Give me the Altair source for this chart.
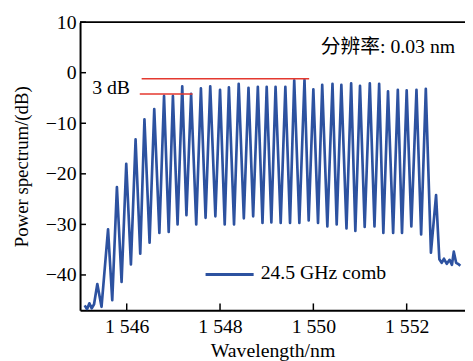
import altair as alt
import pandas as pd

# ---- data ----
peak_wl = [1545.37, 1545.60, 1545.79, 1545.99, 1546.19, 1546.38, 1546.59, 1546.80, 1546.99,
           1547.19, 1547.38, 1547.59, 1547.79, 1548.00, 1548.19, 1548.40, 1548.61, 1548.81,
           1549.00, 1549.19, 1549.40, 1549.59, 1549.81, 1550.00, 1550.19, 1550.41, 1550.60,
           1550.81, 1551.00, 1551.21, 1551.41, 1551.60, 1551.81, 1552.00, 1552.21, 1552.41,
           1552.63]
peak_db = [-41.8, -31.0, -22.6, -18.0, -13.2, -9.2, -7.2, -4.6, -4.6,
           -2.7, -4.2, -3.1, -2.7, -3.4, -2.9, -2.2, -3.0, -2.8,
           -2.8, -2.8, -2.8, -1.5, -1.4, -3.3, -2.4, -2.2, -2.4,
           -2.1, -2.6, -2.1, -2.2, -3.7, -3.4, -3.5, -3.4, -3.2,
           -24.2]
valley_wl = [1545.46, 1545.69, 1545.89, 1546.09, 1546.29, 1546.49, 1546.70, 1546.90, 1547.09,
             1547.28, 1547.49, 1547.69, 1547.90, 1548.10, 1548.30, 1548.51, 1548.71, 1548.91,
             1549.10, 1549.30, 1549.50, 1549.70, 1549.90, 1550.10, 1550.30, 1550.50, 1550.71,
             1550.90, 1551.10, 1551.31, 1551.50, 1551.71, 1551.90, 1552.10, 1552.31, 1552.52,
             1552.70]
valley_db = [-46.3, -45.0, -41.4, -37.9, -35.8, -33.6, -31.7, -31.5, -30.0,
             -28.2, -30.0, -28.7, -28.4, -30.0, -30.0, -28.8, -28.4, -29.7,
             -29.6, -29.7, -29.7, -29.7, -29.2, -29.7, -30.4, -30.0, -30.8,
             -31.3, -30.5, -30.4, -31.7, -31.7, -31.7, -30.4, -32.0, -35.6,
             -36.9]
left_wl = [1545.10, 1545.15, 1545.20, 1545.25, 1545.30]
left_db = [-46.0, -46.8, -45.6, -46.6, -45.8]
right_wl = [1552.75, 1552.80, 1552.86, 1552.92, 1552.97, 1553.01, 1553.06, 1553.10, 1553.15]
right_db = [-37.6, -36.8, -37.8, -37.0, -38.0, -35.4, -37.6, -37.8, -38.2]

x_ticks = [1546, 1548, 1550, 1552]
y_ticks = [-40, -30, -20, -10, 0, 10]

red_wl = [1546.32, 1546.28]
red_wl2 = [1549.91, 1547.41]
red_db = [-1.2, -4.2]

legend_wl = [1547.69]
legend_wl2 = [1548.72]
legend_db = [-39.9]

ann_text = ["分辨率: 0.03 nm", "3 dB", "24.5 GHz comb"]
ann_wl = [1550.16, 1545.26, 1548.87]
ann_db = [5.1, -3.0, -39.7]

# ---- build ----
W, H = 390, 292
BLUE = "#2d52a0"
RED = "#e4392f"
FONT = "Liberation Serif, Noto Sans CJK SC, serif"

wl = left_wl + peak_wl + valley_wl + right_wl
db = left_db + peak_db + valley_db + right_db
df = pd.DataFrame({"wl": wl, "db": db}).sort_values("wl")

xs = alt.Scale(domain=[1545.0, 1553.25], nice=False, zero=False)
ys = alt.Scale(domain=[-47, 10], nice=False, zero=False)

X = alt.X("wl:Q", scale=xs, axis=alt.Axis(
    values=x_ticks, ticks=False, grid=False, title="Wavelength/nm",
    labelExpr="replace(format(datum.value, ','), ',', ' ')",
    labelFont=FONT, labelFontSize=20, labelColor="black", labelPadding=6,
    titleFont=FONT, titleFontSize=20, titleFontWeight="normal", titleColor="black",
    titleY=31, titleBaseline="top",
    domainColor="black", domainWidth=2))
Y = alt.Y("db:Q", scale=ys, axis=alt.Axis(
    values=y_ticks, ticks=False, grid=False, title="Power spectrum/(dB)",
    labelFont=FONT, labelFontSize=20, labelColor="black", labelPadding=4,
    titleFont=FONT, titleFontSize=19, titleFontWeight="normal", titleColor="black",
    titleX=-59, titleY=146, titleAlign="center", titleBaseline="middle", titleAngle=-90,
    domainColor="black", domainWidth=2))

line = alt.Chart(df).mark_line(color=BLUE, strokeWidth=2.7, strokeJoin="round",
                               clip=True).encode(x=X, y=Y)

ytk = alt.Chart(pd.DataFrame({"db": y_ticks})).mark_rule(color="black", strokeWidth=1.5).encode(
    y=Y, x=alt.value(0), x2=alt.value(6))
xtk = alt.Chart(pd.DataFrame({"wl": x_ticks})).mark_rule(color="black", strokeWidth=1.5).encode(
    x=X, y=alt.value(H), y2=alt.value(H - 7))
top = alt.Chart(pd.DataFrame({"wl": [1545.0]})).mark_rule(color="black", strokeWidth=2).encode(
    x=alt.value(0), x2=alt.value(W), y=alt.value(0))

red = alt.Chart(pd.DataFrame({"wl": red_wl, "wl2": red_wl2, "db": red_db})).mark_rule(
    color=RED, strokeWidth=1.5).encode(x=X, x2="wl2:Q", y=Y)

leg = alt.Chart(pd.DataFrame({"wl": legend_wl, "wl2": legend_wl2, "db": legend_db})).mark_rule(
    color=BLUE, strokeWidth=3).encode(x=X, x2="wl2:Q", y=Y)

txt = alt.Chart(pd.DataFrame({"wl": ann_wl, "db": ann_db, "t": ann_text})).mark_text(
    align="left", baseline="middle", font=FONT, fontSize=20, color="black").encode(
    x=X, y=Y, text="t:N")

chart = alt.layer(line, red, leg, txt, ytk, xtk, top).properties(
    width=W, height=H,
    autosize=alt.AutoSizeParams(type="none"),
    padding={"left": 73, "top": 12, "right": 0, "bottom": 49},
).configure_view(stroke=None)

chart.save("out.html", embed_options={"renderer": "svg", "actions": False})
